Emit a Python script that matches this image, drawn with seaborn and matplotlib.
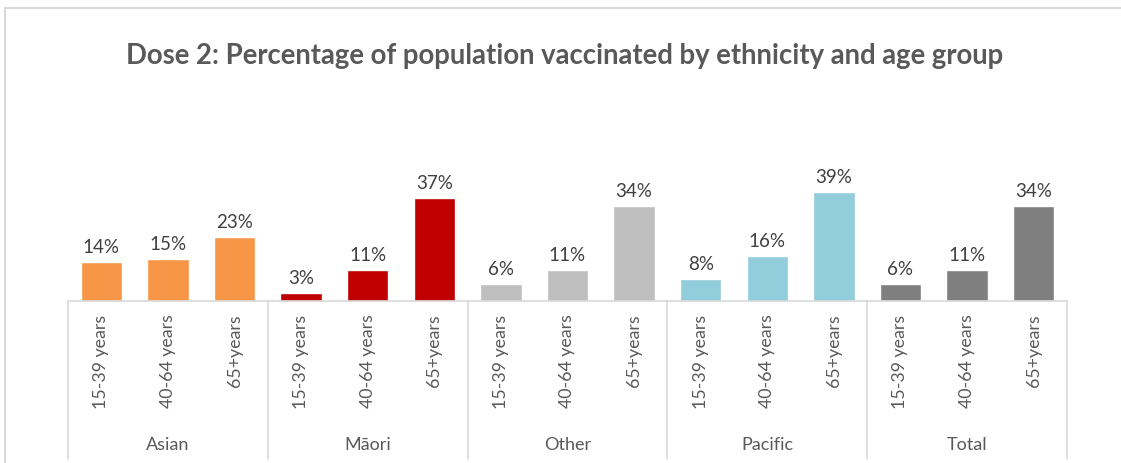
import pandas as pd
import matplotlib.pyplot as plt
import matplotlib.patches as mpatches
import seaborn as sns

ethnicities = ['Asian', 'Māori', 'Other', 'Pacific', 'Total']
age_groups = ['15-39 years', '40-64 years', '65+years']
asian = [14, 15, 23]
maori = [3, 11, 37]
other = [6, 11, 34]
pacific = [8, 16, 39]
total = [6, 11, 34]
colours = ['#F79646', '#C00000', '#BFBFBF', '#92CDDC', '#7F7F7F']

values = [asian, maori, other, pacific, total]
rows = []
for eth, vals in zip(ethnicities, values):
    for age, v in zip(age_groups, vals):
        rows.append({'slot': f'{eth}|{age}', 'ethnicity': eth, 'age': age, 'pct': v})
df = pd.DataFrame(rows)

sns.set_style('white')
plt.rcParams['font.family'] = ['Lato', 'DejaVu Sans']
text_col = '#595959'
line_col = '#D9D9D9'

fig = plt.figure(figsize=(11.21, 4.64), dpi=100)
ax = fig.add_axes([68 / 1121, (464 - 302) / 464, 999 / 1121, 162 / 464])

sns.barplot(data=df, x='slot', y='pct', hue='ethnicity', palette=colours,
            dodge=False, width=0.62, legend=False, ax=ax, saturation=1)

ax.set_xlim(-0.5, len(df) - 0.5)
ax.set_ylim(0, 58)
for s in ['top', 'right', 'left']:
    ax.spines[s].set_visible(False)
ax.spines['bottom'].set_color(line_col)
ax.spines['bottom'].set_linewidth(1.2)
ax.set_yticks([])
ax.set_xlabel('')
ax.set_ylabel('')
ax.set_xticks(range(len(df)))
ax.set_xticklabels(df['age'], rotation=90, fontsize=12.8, color=text_col)
ax.tick_params(axis='x', length=0, pad=9)

# value labels
for i, v in enumerate(df['pct']):
    ax.annotate(f'{v}%', (i, v), xytext=(0, 5), textcoords='offset points',
                ha='center', va='bottom', fontsize=13.5, color='#404040')

# group separators and labels
xt = ax.get_xaxis_transform()
for k in range(len(ethnicities) + 1):
    ax.plot([k * 3 - 0.5, k * 3 - 0.5], [0, -0.975], transform=xt,
            color=line_col, lw=1.2, clip_on=False)
for k, eth in enumerate(ethnicities):
    ax.text(k * 3 + 1, -0.883, eth, transform=xt, ha='center', va='center',
            fontsize=13, color=text_col)

fig.text(565 / 1121, 1 - 56 / 464, 'Dose 2: Percentage of population vaccinated by ethnicity and age group',
         ha='center', va='center', fontsize=19.8, fontweight='bold', color=text_col)

# outer chart border
fig.patches.append(mpatches.Rectangle((5 / 1121, -0.1), 1.2, 1 - 8.5 / 464 + 0.1,
                                      transform=fig.transFigure, fill=False,
                                      edgecolor=line_col, lw=1.5))

fig.savefig('out.png', dpi=100)
